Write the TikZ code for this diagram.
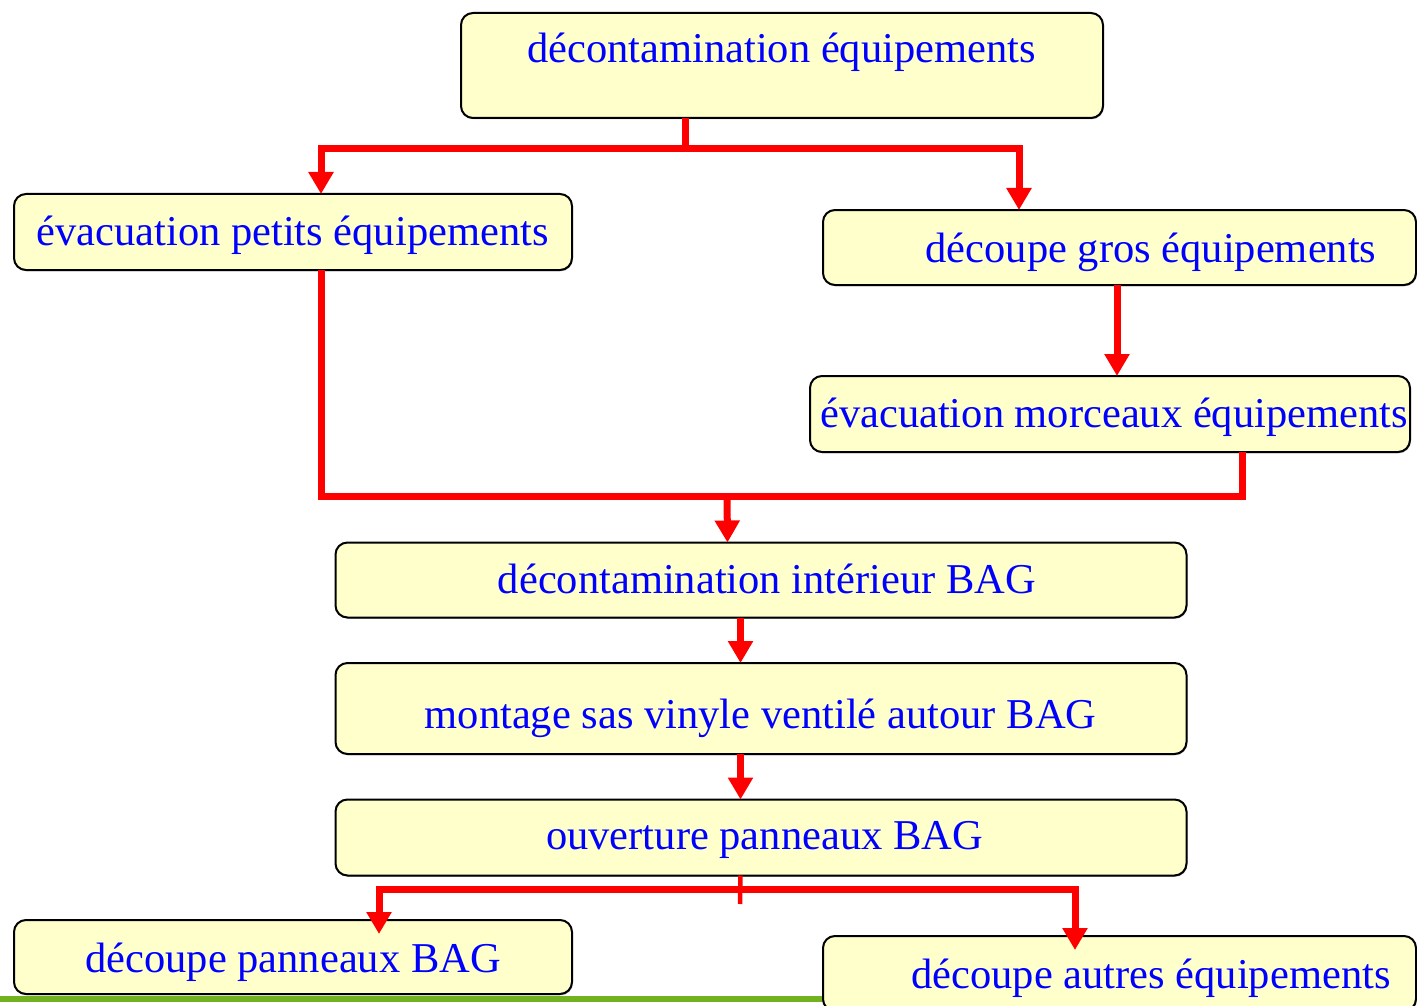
\documentclass[tikz,border=0pt]{standalone}
\usepackage{fontspec}
\setmainfont{Liberation Serif}
\usetikzlibrary{arrows.meta,shadows}
\definecolor{boxfill}{RGB}{255,255,204}
\definecolor{conred}{RGB}{255,0,0}
\definecolor{txtblue}{RGB}{0,0,255}
\definecolor{grline}{RGB}{114,178,30}
\begin{document}
\begin{tikzpicture}[x=1pt,y=-1pt,
  stepbox/.style={draw=black, line width=2pt, fill=boxfill, rounded corners=12pt,
    inner sep=0pt, outer sep=0pt,
    drop shadow={shadow xshift=0.8pt, shadow yshift=-1.2pt, fill=black!45, opacity=0.8}},
  lbl/.style={text=txtblue, anchor=base, inner sep=0pt, font=\fontsize{42.5}{50}\selectfont},
  conn/.style={draw=conred, line width=7pt},
  thin conn/.style={draw=conred, line width=4.5pt},
  arr/.style={conn, -{Triangle[length=22pt,width=24pt]}}
]
\useasboundingbox (0,0) rectangle (1417,1006);
\fill[white] (0,0) rectangle (1417,1006);

% green base line
\coordinate (gA) at (0,999);
\coordinate (gB) at (824,999);
\draw[grline, line width=6pt] (gA) -- (gB);

% boxes
\node[stepbox, minimum width=642pt, minimum height=105pt] (b1) at (782,65.5) {};
\node[stepbox, minimum width=558pt, minimum height=76pt] (b2) at (293,232) {};
\node[stepbox, minimum width=593pt, minimum height=75pt] (b3) at (1119.5,247.5) {};
\node[stepbox, minimum width=600pt, minimum height=76pt] (b4) at (1110,414) {};
\node[stepbox, minimum width=851pt, minimum height=75pt] (b5) at (761,580) {};
\node[stepbox, minimum width=851pt, minimum height=91pt] (b6) at (761,708.5) {};
\node[stepbox, minimum width=851pt, minimum height=76pt] (b7) at (761,837.5) {};
\node[stepbox, minimum width=558pt, minimum height=74pt] (b8) at (293,957) {};
\node[stepbox, minimum width=593pt, minimum height=75pt] (b9) at (1119.5,973.5) {};

% texts
\node[lbl] (t1) at (781.5,63) {décontamination équipements};
\node[lbl] (t2) at (292.5,245) {évacuation petits équipements};
\node[lbl] (t3) at (1151,262) {découpe gros équipements};
\node[lbl] (t4) at (1114,427) {évacuation morceaux équipements};
\node[lbl] (t5) at (767,593) {décontamination intérieur BAG};
\node[lbl] (t6) at (760.5,728) {montage sas vinyle ventilé autour BAG};
\node[lbl] (t7) at (764.5,849) {ouverture panneaux BAG};
\node[lbl] (t8) at (293,972) {découpe panneaux BAG};
\node[lbl] (t9) at (1151,988) {découpe autres équipements};

% junction coordinates
\coordinate (j1) at (685,149);
\coordinate (j2) at (727,496);
\coordinate (j3) at (740,889.5);
\coordinate (j3end) at (740,904);

% top split
\draw[conn] ([xshift=224pt]b1.south west) -- (j1);
\draw[arr] (j1) -| ([xshift=307pt]b2.north west);
\draw[arr] (j1) -| ([xshift=196pt]b3.north west);

% b3 -> b4
\draw[arr] ([xshift=294pt]b3.south west) -- ([xshift=307pt]b4.north west);

% merge of b2 and b4 into b5
\draw[conn] ([xshift=307pt]b2.south west) |- (j2) -| ([xshift=432pt]b4.south west);
\draw[arr] (j2) -- ([xshift=392pt]b5.north west);

% chain
\draw[arr] ([xshift=405pt]b5.south west) -- ([xshift=405pt]b6.north west);
\draw[arr] ([xshift=405pt]b6.south west) -- ([xshift=405pt]b7.north west);

% bottom split
\draw[thin conn] ([xshift=405pt]b7.south west) -- (j3end);
\draw[arr] (j3) -| ([xshift=365pt,yshift=-14pt]b8.north west);
\draw[arr] (j3) -| ([xshift=252pt,yshift=-14pt]b9.north west);
\end{tikzpicture}
\end{document}
